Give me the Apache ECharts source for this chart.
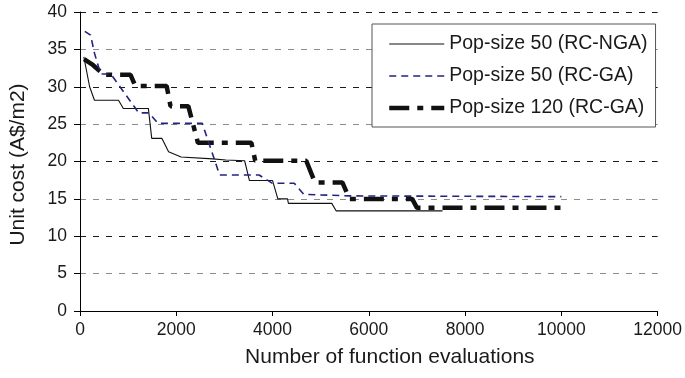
<!DOCTYPE html>
<html>
<head>
<meta charset="utf-8">
<script src="https://cdn.jsdelivr.net/npm/echarts@6/dist/echarts.min.js"></script>
<style>
  html, body { margin: 0; padding: 0; background: #fff; }
  #chart { width: 685px; height: 378px; }
</style>
</head>
<body>
<div id="chart"></div>
<script>
// Convergence of unit cost against the number of function evaluations
var xTicks = [0, 2000, 4000, 6000, 8000, 10000, 12000];
var yTicks = [0, 5, 10, 15, 20, 25, 30, 35, 40];

var seriesNames = ['Pop-size 50 (RC-NGA)', 'Pop-size 50 (RC-GA)', 'Pop-size 120 (RC-GA)'];

// Pop-size 50, RC-NGA
var ngaEvals = [80, 200, 300, 800, 900, 1420, 1490, 1700, 1840, 2100, 2760, 3030, 3420, 3520, 4000, 4110, 4310, 4330, 5230, 5320, 7530];
var ngaCost  = [34, 30, 28.2, 28.2, 27.1, 27.1, 23.1, 23.1, 21.3, 20.6, 20.35, 20.2, 20.1, 17.45, 17.45, 15.0, 15.0, 14.4, 14.4, 13.4, 13.4];

// Pop-size 50, RC-GA
var ga50Evals = [100, 220, 300, 430, 640, 1220, 1430, 1620, 2540, 2900, 3720, 3990, 4450, 4650, 5600, 10000];
var ga50Cost  = [37.4, 36.9, 34.5, 31.7, 31.7, 26.5, 26.5, 25.1, 25.1, 18.2, 18.2, 17.1, 17.1, 15.6, 15.4, 15.3];

// Pop-size 120, RC-GA
var ga120Evals = [85, 250, 430, 470, 1050, 1150, 1800, 1880, 2250, 2450, 3560, 3640, 4700, 4880, 5450, 5600, 6900, 7000, 10000];
var ga120Cost  = [33.7, 33.0, 32.0, 31.6, 31.6, 30.1, 30.1, 27.4, 27.4, 22.5, 22.5, 20.1, 20.1, 17.2, 17.2, 15.0, 15.0, 13.8, 13.8];

function pairs(xs, ys) {
  return xs.map(function (x, i) { return [x, ys[i]]; });
}

var font = '"Liberation Sans", Arial, sans-serif';

// stroke styles shared by each series and its legend sample
var strokes = [
  { color: '#111111', width: 1.1, type: 'solid' },
  { color: '#232380', width: 1.6, type: [7, 5] },
  { color: '#111111', width: 4.5, type: [20, 8, 6, 8] }
];

var chart = echarts.init(document.getElementById('chart'));

chart.setOption({
  animation: false,
  backgroundColor: '#ffffff',
  textStyle: { fontFamily: font },
  grid: { left: 76, right: 26, top: 12, bottom: 67, containLabel: false },
  legend: {
    show: true,
    orient: 'vertical',
    left: 372,
    top: 24,
    padding: [10, 8, 9, 15],
    itemWidth: 55,
    itemHeight: 16,
    itemGap: 12,
    backgroundColor: '#ffffff',
    borderColor: '#555555',
    borderWidth: 1,
    itemStyle: { opacity: 0 },
    textStyle: { fontFamily: font, fontSize: 19.5, color: '#1a1a1a' },
    data: seriesNames.map(function (n, i) {
      return {
        name: n,
        lineStyle: { color: strokes[i].color, width: strokes[i].width, type: strokes[i].type }
      };
    })
  },
  xAxis: {
    type: 'value',
    min: xTicks[0],
    max: xTicks[xTicks.length - 1],
    interval: 2000,
    name: 'Number of function evaluations',
    nameLocation: 'middle',
    nameGap: 36,
    nameTextStyle: { fontFamily: font, fontSize: 21, color: '#1a1a1a', padding: [0, 0, 0, 42] },
    axisLine: { show: true, lineStyle: { color: '#000', width: 1 } },
    axisTick: { show: true, inside: false, length: 5, lineStyle: { color: '#000' } },
    axisLabel: {
      fontFamily: font, fontSize: 17.5, color: '#1a1a1a', margin: 10,
      formatter: function (v) { return String(v); }
    },
    splitLine: { show: false }
  },
  yAxis: {
    type: 'value',
    min: yTicks[0],
    max: yTicks[yTicks.length - 1],
    interval: 5,
    name: 'Unit cost (A$/m2)',
    nameLocation: 'middle',
    nameGap: 51,
    nameRotate: 90,
    nameTextStyle: { fontFamily: font, fontSize: 21, color: '#1a1a1a', padding: [0, 6, 0, 0] },
    axisLine: { show: true, lineStyle: { color: '#000', width: 1 } },
    axisTick: { show: true, inside: false, length: 6, lineStyle: { color: '#000' } },
    axisLabel: { fontFamily: font, fontSize: 17.5, color: '#1a1a1a', margin: 13 },
    splitLine: {
      show: true,
      lineStyle: { color: ['#1a1a1a', '#8c8c8c'], width: 1, type: [6, 7] }
    }
  },
  series: [
    {
      name: seriesNames[0],
      type: 'line',
      symbol: 'none',
      data: pairs(ngaEvals, ngaCost),
      lineStyle: strokes[0],
      itemStyle: { color: strokes[0].color },
      z: 3
    },
    {
      name: seriesNames[1],
      type: 'line',
      symbol: 'none',
      data: pairs(ga50Evals, ga50Cost),
      lineStyle: strokes[1],
      itemStyle: { color: strokes[1].color },
      z: 4
    },
    {
      name: seriesNames[2],
      type: 'line',
      symbol: 'none',
      data: pairs(ga120Evals, ga120Cost),
      lineStyle: strokes[2],
      itemStyle: { color: strokes[2].color },
      z: 2
    }
  ]
});
</script>
</body>
</html>
